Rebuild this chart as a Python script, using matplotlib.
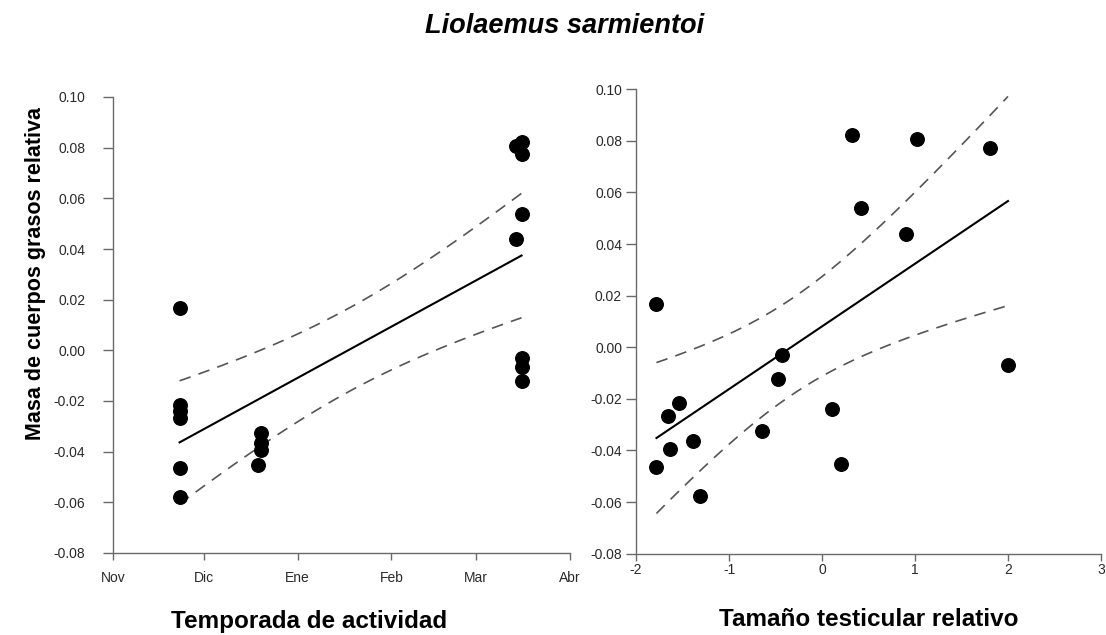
import numpy as np
import matplotlib
matplotlib.use("Agg")
import matplotlib.pyplot as plt

plt.rcParams['font.family'] = ['Liberation Sans', 'DejaVu Sans']

# Data
fat_mass = [0.0167, -0.0215, -0.0239, -0.0266, -0.0463, -0.0578,
            -0.0325, -0.0364, -0.0394, -0.0451,
            0.0821, 0.0806, 0.0774, 0.0539, 0.0439, -0.0029, -0.0067, -0.0122]
# days since 1 November
season_day = [22, 22, 22, 22, 22, 22,
              49, 49, 49, 48,
              135, 133, 135, 135, 133, 135, 135, 135]
testis_size = [-1.78, -1.54, 0.11, -1.66, -1.78, -1.31,
               -0.65, -1.39, -1.63, 0.20,
               0.32, 1.02, 1.81, 0.42, 0.90, -0.43, 2.00, -0.47]

month_ticks = [0, 30, 61, 92, 120, 151]
month_labels = ['Nov', 'Dic', 'Ene', 'Feb', 'Mar', 'Abr']
y_ticks = [-0.08, -0.06, -0.04, -0.02, 0.00, 0.02, 0.04, 0.06, 0.08, 0.10]
testis_ticks = [-2, -1, 0, 1, 2, 3]

T_CRIT = 2.120  # t(0.975, df=16)

AXC = '#6a6a6a'
TXC = '#2a2a2a'


def fit_ci(x, y, n=100):
    x = np.asarray(x, float)
    y = np.asarray(y, float)
    b1, b0 = np.polyfit(x, y, 1)
    xs = np.linspace(x.min(), x.max(), n)
    yh = b0 + b1 * xs
    resid = y - (b0 + b1 * x)
    s = np.sqrt(np.sum(resid ** 2) / (len(x) - 2))
    se = s * np.sqrt(1 / len(x) + (xs - x.mean()) ** 2 / np.sum((x - x.mean()) ** 2))
    return xs, yh, yh - T_CRIT * se, yh + T_CRIT * se


def style(ax, ypad, xpad):
    for sp in ['top', 'right']:
        ax.spines[sp].set_visible(False)
    for sp in ['left', 'bottom']:
        ax.spines[sp].set_color(AXC)
        ax.spines[sp].set_linewidth(1.0)
    ax.tick_params(axis='y', direction='out', length=7, width=1.0, color=AXC,
                   labelsize=10, labelcolor=TXC, pad=ypad)
    ax.tick_params(axis='x', direction='out', length=5, width=1.0, color=AXC,
                   labelsize=10, labelcolor=TXC, pad=xpad)
    ax.set_yticks(y_ticks)
    ax.set_yticklabels([f'{v:.2f}' for v in y_ticks])
    ax.set_ylim(-0.08, 0.10)


fig = plt.figure(figsize=(11.06, 6.35), dpi=100)
ax1 = fig.add_axes([113 / 1106, 82 / 635, 457 / 1106, 456 / 635])
ax2 = fig.add_axes([636 / 1106, 81.3 / 635, 465 / 1106, 464.4 / 635])

for ax, x, ypad, xpad in [(ax1, season_day, 13, 8), (ax2, testis_size, 3, 1.5)]:
    style(ax, ypad, xpad)
    xs, yh, lo, hi = fit_ci(x, fat_mass)
    ax.plot(xs, hi, color='#555555', lw=1.2, ls=(0, (7, 5)))
    ax.plot(xs, lo, color='#555555', lw=1.2, ls=(0, (7, 5)))
    ax.plot(xs, yh, color='black', lw=1.5)
    ax.scatter(x, fat_mass, s=95, color='black', zorder=3, clip_on=False)

ax1.set_xlim(month_ticks[0], month_ticks[-1])
ax1.set_xticks(month_ticks)
ax1.set_xticklabels(month_labels)

ax2.set_xlim(-2, 3)
ax2.set_xticks(testis_ticks)
ax2.set_xticklabels([str(t) for t in testis_ticks])

fig.text(565 / 1106, 1 - 33 / 635, 'Liolaemus sarmientoi', ha='center', va='baseline',
         fontsize=19.5, fontweight='bold', fontstyle='italic', color='black')
fig.text(36 / 1106, 1 - 273 / 635, 'Masa de cuerpos grasos relativa', ha='center',
         va='center', rotation=90, fontsize=15.5, fontweight='bold', color='black')
fig.text(309 / 1106, 1 - 628 / 635, 'Temporada de actividad', ha='center', va='baseline',
         fontsize=17.5, fontweight='bold', color='black')
fig.text(869 / 1106, 1 - 626 / 635, 'Tamaño testicular relativo', ha='center', va='baseline',
         fontsize=17.5, fontweight='bold', color='black')

fig.savefig('out.png', dpi=100, facecolor='white')
